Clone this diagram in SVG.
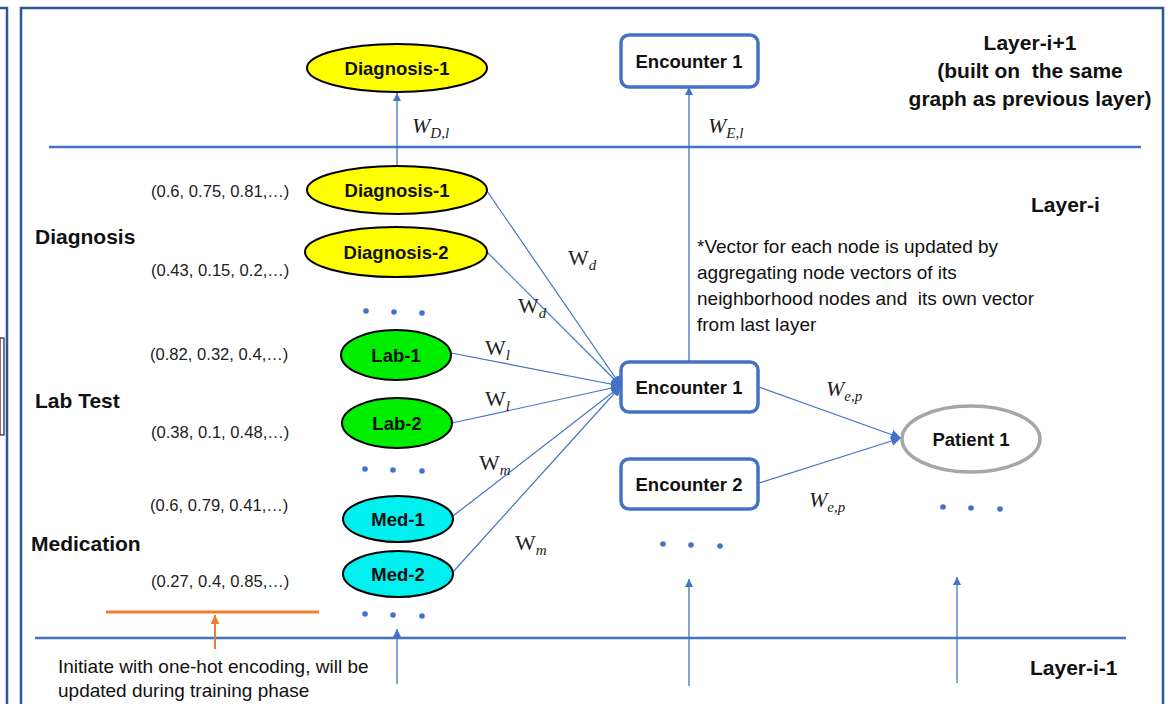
<svg xmlns="http://www.w3.org/2000/svg" width="1168" height="704" viewBox="0 0 1168 704">
<defs>
<marker id="ah" viewBox="0 0 10 10" refX="10" refY="5" markerWidth="8" markerHeight="8" markerUnits="userSpaceOnUse" orient="auto">
<path d="M0,0 L10,5 L0,10 z" fill="#4472c4"/>
</marker>
<marker id="ahb" viewBox="0 0 10 10" refX="10" refY="5" markerWidth="10" markerHeight="10" markerUnits="userSpaceOnUse" orient="auto">
<path d="M0,0 L10,5 L0,10 z" fill="#4472c4"/>
</marker>
<marker id="aho" viewBox="0 0 10 10" refX="10" refY="5" markerWidth="9" markerHeight="9" markerUnits="userSpaceOnUse" orient="auto">
<path d="M0,0 L10,5 L0,10 z" fill="#ed7d31"/>
</marker>
<style>
.frame{fill:none;stroke:#2f5597;stroke-width:2.5}
.layer{stroke:#4472c4;stroke-width:2.5}
.edge{stroke:#4472c4;stroke-width:1.2;fill:none}
.vert{stroke:#4472c4;stroke-width:1.3;fill:none}
.dot{fill:#4472c4}
.ell{stroke:#000;stroke-width:2}
.dx{fill:#ffff00}
.lab{fill:#00ee00}
.med{fill:#00f0f0}
.box{fill:#fff;stroke:#4472c4;stroke-width:3.5}
.pat{fill:#fff;stroke:#a6a6a6;stroke-width:3.5}
.nt{font-family:"Liberation Sans",Arial,sans-serif;font-weight:bold;font-size:18.5px;fill:#111;text-anchor:middle}
.bt{font-family:"Liberation Sans",Arial,sans-serif;font-weight:bold;font-size:18.5px;fill:#111;text-anchor:middle}
.hd{font-family:"Liberation Sans",Arial,sans-serif;font-weight:bold;font-size:21px;fill:#111;white-space:pre}
.vec{font-family:"Liberation Sans",Arial,sans-serif;font-size:16.6px;fill:#222}
.note{font-family:"Liberation Sans",Arial,sans-serif;font-size:19px;fill:#111;white-space:pre}
.w{font-family:"Liberation Serif","DejaVu Serif",serif;font-size:22px;fill:#222}
.wi{font-family:"Liberation Serif","DejaVu Serif",serif;font-size:22px;font-style:italic;fill:#222}
.s{font-size:15px;font-style:italic}
</style>
</defs>
<rect width="1168" height="704" fill="#fff"/>

<!-- frames -->
<g id="frames">
<path class="frame" d="M0,8 L7,8 L7,704"/>
<rect x="0" y="338" width="4" height="97" fill="none" stroke="#222" stroke-width="1.2"/>
<path class="frame" d="M21,710 L21,8 L1163,8 L1163,710"/>
</g>

<!-- layer lines -->
<g id="layers">
<line class="layer" x1="49" y1="147" x2="1141" y2="147"/>
<line class="layer" x1="35" y1="638" x2="1126" y2="638"/>
</g>

<!-- connectors -->
<g id="connectors">
<line class="vert" x1="397" y1="166" x2="397" y2="93" marker-end="url(#ah)"/>
<line class="vert" x1="689" y1="362" x2="689" y2="87" marker-end="url(#ah)"/>
<line class="vert" x1="397" y1="684" x2="397" y2="629" marker-end="url(#ah)"/>
<line class="vert" x1="689" y1="686" x2="689" y2="579" marker-end="url(#ah)"/>
<line class="vert" x1="957" y1="683" x2="957" y2="577" marker-end="url(#ah)"/>
<line class="edge" x1="487" y1="191" x2="621" y2="386" marker-end="url(#ahb)"/>
<line class="edge" x1="487" y1="252" x2="621" y2="386" marker-end="url(#ahb)"/>
<line class="edge" x1="451" y1="353" x2="621" y2="386" marker-end="url(#ahb)"/>
<line class="edge" x1="452" y1="423" x2="621" y2="386" marker-end="url(#ahb)"/>
<line class="edge" x1="453" y1="516" x2="621" y2="386" marker-end="url(#ahb)"/>
<line class="edge" x1="453" y1="572" x2="621" y2="386" marker-end="url(#ahb)"/>
<line class="edge" x1="759" y1="387" x2="901" y2="438" marker-end="url(#ahb)"/>
<line class="edge" x1="759" y1="483" x2="901" y2="438" marker-end="url(#ahb)"/>
<line x1="106" y1="612" x2="319" y2="612" stroke="#ed7d31" stroke-width="3"/>
<line x1="215" y1="649" x2="215" y2="615" stroke="#ed7d31" stroke-width="2" marker-end="url(#aho)"/>
</g>

<!-- edge labels -->
<g id="edge-labels">
<text class="wi" x="412" y="133">W<tspan class="s" dy="5">D,l</tspan></text>
<text class="wi" x="708" y="133">W<tspan class="s" dy="5">E,l</tspan></text>
<text class="w" x="568" y="265" font-size="20">W<tspan class="s" dy="5">d</tspan></text>
<text class="w" x="518" y="313" font-size="20">W<tspan class="s" dy="5">d</tspan></text>
<text class="w" x="485" y="355" font-size="20">W<tspan class="s" dy="5">l</tspan></text>
<text class="w" x="485" y="406" font-size="20">W<tspan class="s" dy="5">l</tspan></text>
<text class="w" x="479" y="470" font-size="20">W<tspan class="s" dy="5">m</tspan></text>
<text class="w" x="515" y="550" font-size="20">W<tspan class="s" dy="5">m</tspan></text>
<text class="wi" x="826" y="396">W<tspan class="s" dy="5">e,p</tspan></text>
<text class="wi" x="809" y="507">W<tspan class="s" dy="5">e,p</tspan></text>
</g>

<!-- nodes -->
<g id="node-diag1-top">
<ellipse class="ell dx" cx="397" cy="68" rx="90" ry="24"/>
<text class="nt" x="397" y="75">Diagnosis-1</text>
</g>
<g id="node-enc1-top">
<rect class="box" x="621" y="35" width="137" height="52" rx="8"/>
<text class="bt" x="689" y="68">Encounter 1</text>
</g>
<g id="node-diag1">
<ellipse class="ell dx" cx="397" cy="190" rx="90" ry="24"/>
<text class="nt" x="397" y="197">Diagnosis-1</text>
</g>
<g id="node-diag2">
<ellipse class="ell dx" cx="396" cy="252" rx="91" ry="25"/>
<text class="nt" x="396" y="259">Diagnosis-2</text>
</g>
<g id="node-lab1">
<ellipse class="ell lab" cx="396" cy="355" rx="55" ry="25"/>
<text class="nt" x="396" y="362">Lab-1</text>
</g>
<g id="node-lab2">
<ellipse class="ell lab" cx="397" cy="423" rx="55" ry="25"/>
<text class="nt" x="397" y="430">Lab-2</text>
</g>
<g id="node-med1">
<ellipse class="ell med" cx="398" cy="519" rx="55" ry="23"/>
<text class="nt" x="398" y="526">Med-1</text>
</g>
<g id="node-med2">
<ellipse class="ell med" cx="398" cy="574" rx="55" ry="23"/>
<text class="nt" x="398" y="581">Med-2</text>
</g>
<g id="node-enc1">
<rect class="box" x="621" y="362" width="137" height="50" rx="8"/>
<text class="bt" x="689" y="394">Encounter 1</text>
</g>
<g id="node-enc2">
<rect class="box" x="621" y="459" width="137" height="50" rx="8"/>
<text class="bt" x="689" y="491">Encounter 2</text>
</g>
<g id="node-patient1">
<ellipse class="pat" cx="971" cy="439" rx="69" ry="33"/>
<text class="bt" x="971" y="446" font-size="19">Patient 1</text>
</g>

<!-- ellipsis dots -->
<g id="dots">
<circle class="dot" cx="366" cy="311" r="2.8"/><circle class="dot" cx="394" cy="312" r="2.8"/><circle class="dot" cx="422" cy="313" r="2.8"/>
<circle class="dot" cx="365" cy="469" r="2.8"/><circle class="dot" cx="393" cy="470" r="2.8"/><circle class="dot" cx="422" cy="471" r="2.8"/>
<circle class="dot" cx="365" cy="614" r="2.8"/><circle class="dot" cx="393" cy="615" r="2.8"/><circle class="dot" cx="422" cy="616" r="2.8"/>
<circle class="dot" cx="663" cy="544" r="2.8"/><circle class="dot" cx="691" cy="545" r="2.8"/><circle class="dot" cx="720" cy="546" r="2.8"/>
<circle class="dot" cx="943" cy="507" r="2.8"/><circle class="dot" cx="971" cy="508" r="2.8"/><circle class="dot" cx="1000" cy="509" r="2.8"/>
</g>

<!-- texts -->
<g id="texts">
<text class="hd" x="1030" y="50" text-anchor="middle">Layer-i+1</text>
<text class="hd" x="1030" y="78" text-anchor="middle">(built on  the same</text>
<text class="hd" x="1030" y="106" text-anchor="middle">graph as previous layer)</text>
<text class="hd" x="1031" y="212">Layer-i</text>
<text class="hd" x="1030" y="675">Layer-i-1</text>
<text class="hd" x="35" y="244">Diagnosis</text>
<text class="hd" x="35" y="408">Lab Test</text>
<text class="hd" x="31" y="551">Medication</text>
<text class="vec" x="151" y="197">(0.6, 0.75, 0.81,…)</text>
<text class="vec" x="151" y="276">(0.43, 0.15, 0.2,…)</text>
<text class="vec" x="150" y="360">(0.82, 0.32, 0.4,…)</text>
<text class="vec" x="151" y="438">(0.38, 0.1, 0.48,…)</text>
<text class="vec" x="150" y="511">(0.6, 0.79, 0.41,…)</text>
<text class="vec" x="151" y="587">(0.27, 0.4, 0.85,…)</text>
<text class="note" x="697" y="253">*Vector for each node is updated by</text>
<text class="note" x="697" y="279">aggregating node vectors of its</text>
<text class="note" x="697" y="305">neighborhood nodes and  its own vector</text>
<text class="note" x="697" y="331">from last layer</text>
<text class="note" x="58" y="673" font-size="19.4">Initiate with one-hot encoding, will be</text>
<text class="note" x="58" y="697" font-size="19.4">updated during training phase</text>
</g>
</svg>
